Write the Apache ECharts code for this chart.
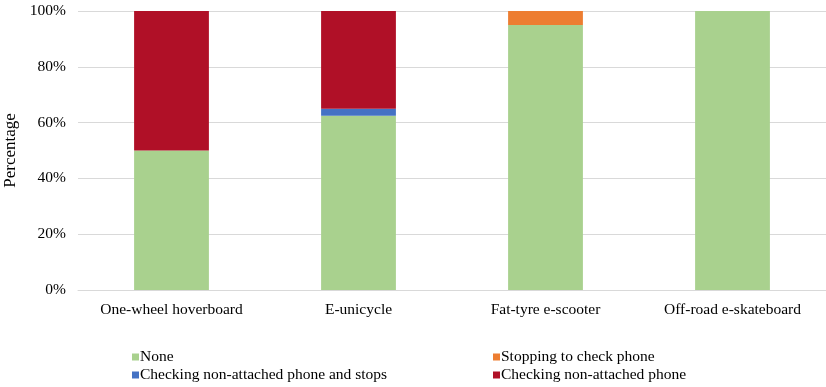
<!DOCTYPE html>
<html>
<head>
<meta charset="utf-8">
<script src="https://cdn.jsdelivr.net/npm/echarts@6/dist/echarts.min.js"></script>
<style>
  html, body { margin: 0; padding: 0; background: #fff; }
  #main { width: 826px; height: 387px; }
</style>
</head>
<body>
<div id="main"></div>
<script>
const categories = ['One-wheel hoverboard', 'E-unicycle', 'Fat-tyre e-scooter', 'Off-road e-skateboard']
const noneVals = [50, 62.5, 95, 100]
const stoppingVals = [0, 0, 5, 0]
const checkStopsVals = [0, 2.5, 0, 0]
const checkVals = [50, 35, 0, 0]
const yTicks = [0, 20, 40, 60, 80, 100]

const font = 'Liberation Serif'
const chart = echarts.init(document.getElementById('main'))

const bar = (name, data, color) => ({
  name: name,
  type: 'bar',
  stack: 'total',
  barWidth: '40%',
  itemStyle: { color: color },
  data: data
})

// two legend columns, like the original
const legendCol = (left, names) => ({
  orient: 'vertical', left: left, top: 349, padding: 0, itemGap: 2,
  itemWidth: 7, itemHeight: 7, icon: 'rect',
  textStyle: { fontFamily: font, fontSize: 15.5, color: '#000', padding: [0, 0, 0, -4] },
  data: names
})

chart.setOption({
  animation: false,
  textStyle: { fontFamily: font },
  grid: { left: 78, right: 0, top: 11, bottom: 97, outerBoundsMode: 'none' },
  legend: [
    legendCol(132, ['None', 'Checking non-attached phone and stops']),
    legendCol(493, ['Stopping to check phone', 'Checking non-attached phone'])
  ],
  xAxis: {
    type: 'category',
    data: categories,
    axisTick: { show: false },
    axisLine: { lineStyle: { color: '#d9d9d9' } },
    axisLabel: { color: '#000', fontSize: 15.5, margin: 12 }
  },
  yAxis: {
    type: 'value',
    min: 0, max: 100, interval: 20,
    name: 'Percentage',
    nameLocation: 'middle',
    nameGap: 51,
    nameTextStyle: { fontFamily: font, fontSize: 17, color: '#000' },
    axisLine: { show: false },
    axisTick: { show: false },
    splitLine: { lineStyle: { color: '#d9d9d9' } },
    axisLabel: {
      color: '#000', fontSize: 15.5, margin: 12,
      formatter: v => yTicks.includes(v) ? v + '%' : ''
    }
  },
  series: [
    bar('None', noneVals, '#a9d18e'),
    bar('Checking non-attached phone and stops', checkStopsVals, '#4472c4'),
    bar('Stopping to check phone', stoppingVals, '#ed7d31'),
    bar('Checking non-attached phone', checkVals, '#b01027')
  ]
})
</script>
</body>
</html>
